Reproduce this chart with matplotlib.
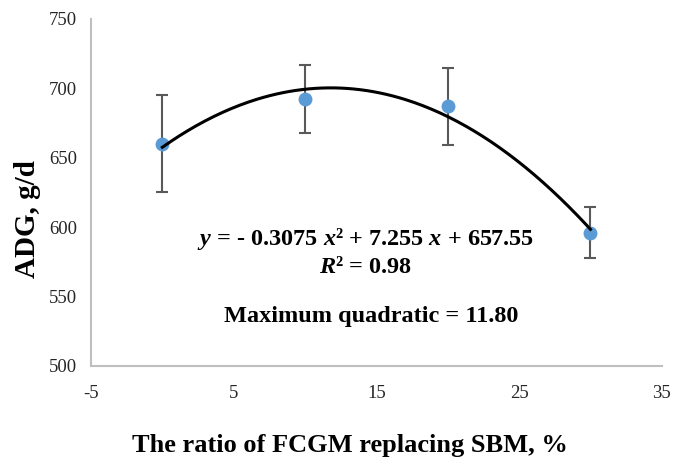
import numpy as np
import matplotlib.pyplot as plt

# ratio of FCGM replacing SBM (%), ADG means and SD
ratio = [0, 10, 20, 30]
adg = [660, 692, 687, 596]
adg_err = [35, 24.5, 28, 18.5]

# quadratic trend as printed on the chart
coef = [-0.3075, 7.255, 657.55]

x_ticks = [-5, 5, 15, 25, 35]
y_ticks = [500, 550, 600, 650, 700, 750]

plt.rcParams['font.family'] = ['Liberation Serif', 'DejaVu Serif']
plt.rcParams['axes.unicode_minus'] = False
plt.rcParams['mathtext.fontset'] = 'custom'
plt.rcParams['mathtext.it'] = 'Liberation Serif:italic:bold'
plt.rcParams['mathtext.rm'] = 'Liberation Serif:bold'

fig = plt.figure(figsize=(6.76, 4.62), dpi=100)
ax = fig.add_axes([0.1346, 0.2078, 0.8444, 0.7512])

ax.errorbar(ratio, adg, yerr=adg_err, fmt='none', ecolor='#595959',
            elinewidth=1.5, capsize=4, capthick=1.5, zorder=2)
ax.plot(ratio, adg, 'o', color='#5B9BD5', markersize=9, zorder=3)

xs = np.linspace(min(ratio), max(ratio), 200)
ax.plot(xs, np.polyval(coef, xs), color='black', linewidth=2.2, zorder=4)

ax.set_xlim(-5, 35)
ax.set_ylim(500, 750)
ax.set_xticks(x_ticks)
ax.set_yticks(y_ticks)
ax.tick_params(length=0, labelsize=13.5, colors='#262626')
ax.tick_params(axis='y', pad=10)
ax.tick_params(axis='x', pad=14)

for s in ['top', 'right']:
    ax.spines[s].set_visible(False)
for s in ['left', 'bottom']:
    ax.spines[s].set_color('#bfbfbf')
    ax.spines[s].set_linewidth(1.5)

fig.text(0.04, 0.526, 'ADG, g/d', fontsize=21, fontweight='bold',
         rotation=90, ha='center', va='center')
fig.text(0.518, 0.035, 'The ratio of FCGM replacing SBM, %', fontsize=19,
         fontweight='bold', ha='center', va='center')

txt = dict(fontsize=17.5, fontweight='bold', ha='center', va='center')
ax.text(14.26, 591.5, r'$y$ = - 0.3075 $x$² + 7.255 $x$ + 657.55', **txt)
ax.text(14.26, 570.6, r'$R$² = 0.98', **txt)
ax.text(14.6, 535.3, 'Maximum quadratic = 11.80', **txt)

fig.savefig('out.png', dpi=100)
